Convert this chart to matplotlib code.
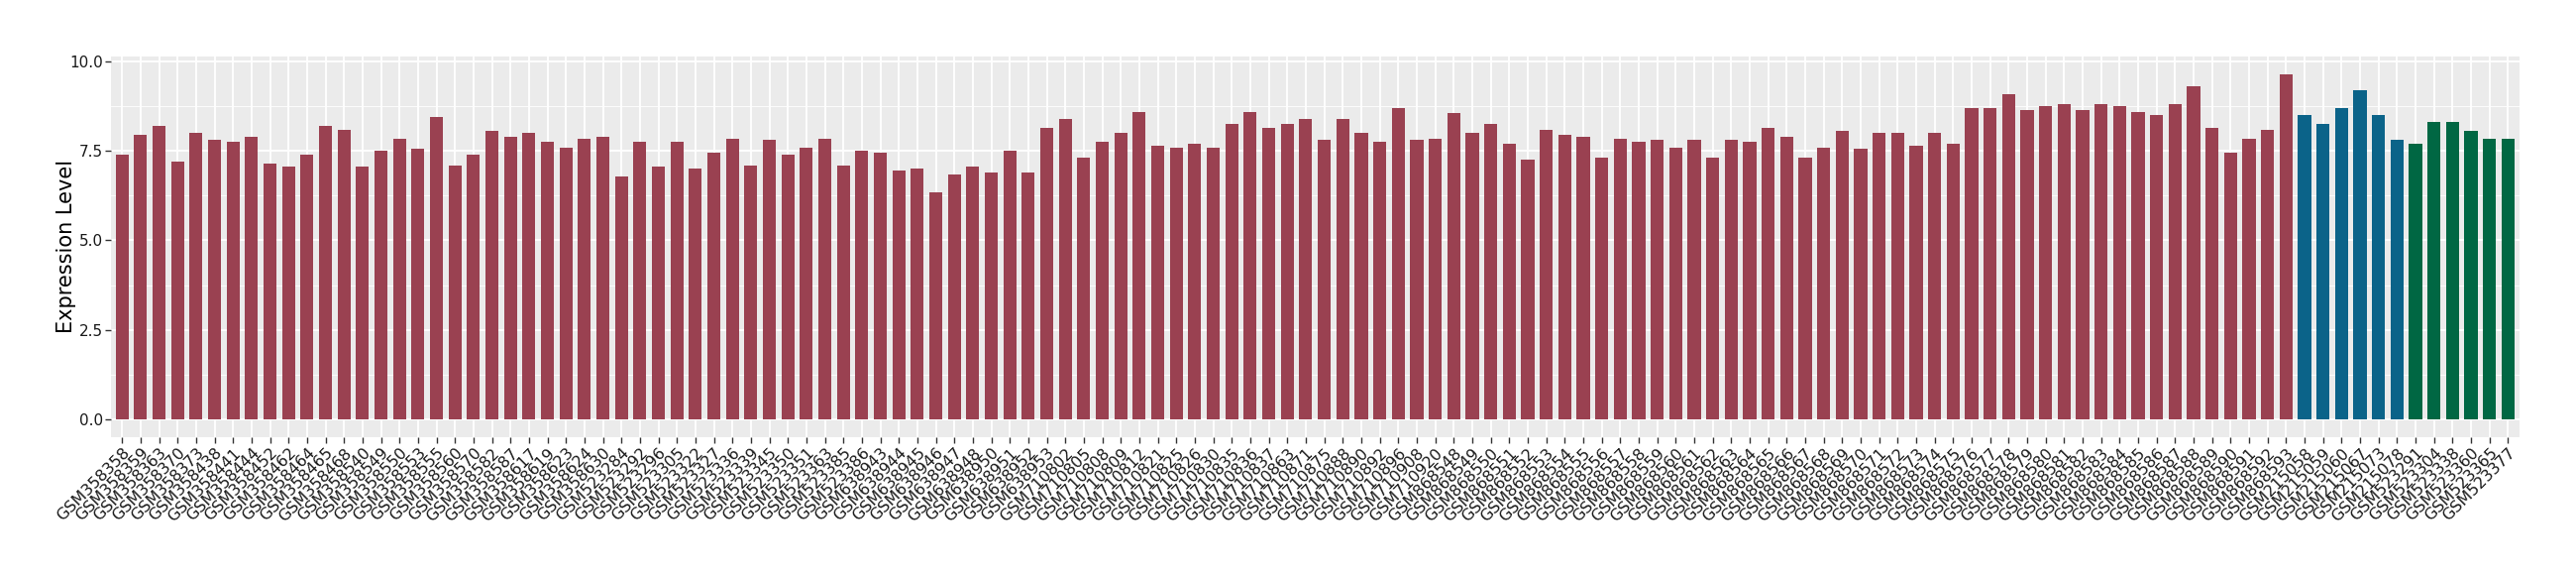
import numpy as np
from matplotlib import pyplot as plt

plt.rcParams["font.family"] = ["DejaVu Sans"]

# sample ids and expression values, one list per group
group1_samples = [
    "GSM358358", "GSM358359", "GSM358363", "GSM358370", "GSM358373", "GSM358438",
    "GSM358441", "GSM358444", "GSM358452", "GSM358462", "GSM358464", "GSM358465",
    "GSM358468", "GSM358540", "GSM358549", "GSM358550", "GSM358553", "GSM358555",
    "GSM358560", "GSM358570", "GSM358582", "GSM358587", "GSM358617", "GSM358619",
    "GSM358623", "GSM358624", "GSM358630", "GSM523284", "GSM523292", "GSM523296",
    "GSM523305", "GSM523322", "GSM523327", "GSM523336", "GSM523339", "GSM523345",
    "GSM523350", "GSM523351", "GSM523363", "GSM523385", "GSM523386", "GSM638943",
    "GSM638944", "GSM638945", "GSM638946", "GSM638947", "GSM638948", "GSM638950",
    "GSM638951", "GSM638952", "GSM638953", "GSM710802", "GSM710805", "GSM710808",
    "GSM710809", "GSM710812", "GSM710821", "GSM710825", "GSM710826", "GSM710830",
    "GSM710835", "GSM710836", "GSM710837", "GSM710863", "GSM710871", "GSM710875",
    "GSM710888", "GSM710890", "GSM710892", "GSM710896", "GSM710908", "GSM710920",
    "GSM868548", "GSM868549", "GSM868550", "GSM868551", "GSM868552", "GSM868553",
    "GSM868554", "GSM868555", "GSM868556", "GSM868557", "GSM868558", "GSM868559",
    "GSM868560", "GSM868561", "GSM868562", "GSM868563", "GSM868564", "GSM868565",
    "GSM868566", "GSM868567", "GSM868568", "GSM868569", "GSM868570", "GSM868571",
    "GSM868572", "GSM868573", "GSM868574", "GSM868575", "GSM868576", "GSM868577",
    "GSM868578", "GSM868579", "GSM868580", "GSM868581", "GSM868582", "GSM868583",
    "GSM868584", "GSM868585", "GSM868586", "GSM868587", "GSM868588", "GSM868589",
    "GSM868590", "GSM868591", "GSM868592", "GSM868593",
]
group1_values = [
    7.4, 7.95, 8.2, 7.2, 8.0, 7.8, 7.75, 7.9, 7.15, 7.05, 7.4, 8.2,
    8.1, 7.05, 7.5, 7.85, 7.55, 8.45, 7.1, 7.4, 8.05, 7.9, 8.0, 7.75,
    7.6, 7.85, 7.9, 6.8, 7.75, 7.05, 7.75, 7.0, 7.45, 7.85, 7.1, 7.8,
    7.4, 7.6, 7.85, 7.1, 7.5, 7.45, 6.95, 7.0, 6.35, 6.85, 7.05, 6.9,
    7.5, 6.9, 8.15, 8.4, 7.3, 7.75, 8.0, 8.6, 7.65, 7.6, 7.7, 7.6,
    8.25, 8.6, 8.15, 8.25, 8.4, 7.8, 8.4, 8.0, 7.75, 8.7, 7.8, 7.85,
    8.55, 8.0, 8.25, 7.7, 7.25, 8.1, 7.95, 7.9, 7.3, 7.85, 7.75, 7.8,
    7.6, 7.8, 7.3, 7.8, 7.75, 8.15, 7.9, 7.3, 7.6, 8.05, 7.55, 8.0,
    8.0, 7.65, 8.0, 7.7, 8.7, 8.7, 9.1, 8.65, 8.75, 8.8, 8.65, 8.8,
    8.75, 8.6, 8.5, 8.8, 9.3, 8.15, 7.45, 7.85, 8.1, 9.65,
]
group2_samples = ["GSM215058", "GSM215059", "GSM215060", "GSM215067", "GSM215073", "GSM215078"]
group2_values = [8.5, 8.25, 8.7, 9.2, 8.5, 7.8]
group3_samples = ["GSM523291", "GSM523304", "GSM523338", "GSM523360", "GSM523365", "GSM523377"]
group3_values = [7.7, 8.3, 8.3, 8.05, 7.85, 7.85]

group_colors = ["#9A4151", "#0B6389", "#006743"]

samples = group1_samples + group2_samples + group3_samples
values = group1_values + group2_values + group3_values
colors = ([group_colors[0]] * len(group1_samples) + [group_colors[1]] * len(group2_samples)
          + [group_colors[2]] * len(group3_samples))

fig = plt.figure(figsize=(26, 5.8), dpi=100)
ax = fig.add_axes([0.0431, 0.2397, 0.9348, 0.6627])
ax.set_facecolor("#EBEBEB")

x = np.arange(len(samples))
ax.bar(x, values, width=0.7, color=colors, zorder=3)

ax.set_xlim(-0.6, len(samples) - 0.4)
ax.set_ylim(-0.5, 10.15)
ax.set_yticks([0, 2.5, 5, 7.5, 10])
ax.set_yticklabels(["0.0", "2.5", "5.0", "7.5", "10.0"])
ax.set_yticks([1.25, 3.75, 6.25, 8.75], minor=True)
ax.set_xticks(x)
ax.set_xticklabels(samples, rotation=45, ha="right", va="top", rotation_mode="anchor")

ax.grid(which="major", color="white", linewidth=1.3, zorder=1)
ax.grid(which="minor", axis="y", color="white", linewidth=0.6, zorder=1)
ax.set_axisbelow(True)
for s in ax.spines.values():
    s.set_visible(False)
ax.tick_params(axis="both", which="major", length=4, width=1, color="#333333",
               labelcolor="#1A1A1A", pad=2)
ax.tick_params(axis="x", labelsize=11.5)
ax.tick_params(axis="y", labelsize=11)
ax.tick_params(axis="y", which="minor", length=0)

ax.set_ylabel("Expression Level", fontsize=15)
ax.yaxis.set_label_coords(-0.0145, 0.5)

fig.savefig("out.png", dpi=100)
